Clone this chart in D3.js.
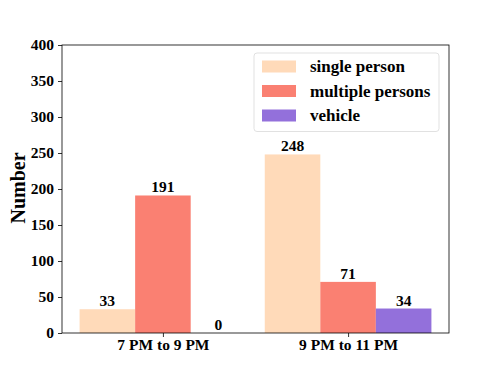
<!DOCTYPE html>
<html>
<head>
<meta charset="utf-8">
<script src="https://cdn.jsdelivr.net/npm/d3@7"></script>
<style>
  body { margin: 0; background: #fff; }
  svg { display: block; }
  text { font-family: "Liberation Serif", "Times New Roman", serif; font-weight: bold; fill: #000; }
</style>
</head>
<body>
<div id="chart"></div>
<script>
// data
var categories = ["7 PM to 9 PM", "9 PM to 11 PM"];
var seriesNames = ["single person", "multiple persons", "vehicle"];
var singlePerson = [33, 248];
var multiplePersons = [191, 71];
var vehicle = [0, 34];
var yTicks = [0, 50, 100, 150, 200, 250, 300, 350, 400];

var seriesValues = [singlePerson, multiplePersons, vehicle];
var colors = ["#ffdab9", "#fa8072", "#9370db"];

var width = 498, height = 374;
var plotLeft = 62, plotRight = 449, plotTop = 45, plotBottom = 333;
var barWidth = 0.3;

var svg = d3.select("#chart").append("svg")
  .attr("width", width)
  .attr("height", height);

var xScale = d3.scaleLinear().domain([-0.545, 1.545]).range([plotLeft, plotRight]);
var yScale = d3.scaleLinear().domain([0, 400]).range([plotBottom, plotTop]);

// bars
seriesValues.forEach(function(vals, s) {
  var off = (s - 1) * barWidth;
  svg.append("g").selectAll("rect")
    .data(vals)
    .enter()
    .append("rect")
    .attr("x", function(d, i) { return xScale(i + off - barWidth / 2); })
    .attr("width", xScale(barWidth) - xScale(0))
    .attr("y", function(d) { return yScale(d); })
    .attr("height", function(d) { return yScale(0) - yScale(d); })
    .attr("fill", colors[s]);

  svg.append("g").selectAll("text")
    .data(vals)
    .enter()
    .append("text")
    .attr("x", function(d, i) { return xScale(i + off); })
    .attr("y", function(d) { return yScale(d) - 3; })
    .attr("text-anchor", "middle")
    .style("font-size", "15.5px")
    .text(function(d) { return d; });
});

// axes
var yAxis = d3.axisLeft(yScale).tickValues(yTicks).tickSize(4).tickPadding(4);
var gy = svg.append("g").attr("transform", "translate(" + plotLeft + ",0)").call(yAxis);
gy.select(".domain").remove();
gy.selectAll("text").style("font-size", "15.5px");
gy.selectAll("line").attr("stroke", "#000").attr("stroke-width", 0.8);

var xAxis = d3.axisBottom(xScale).tickValues([0, 1]).tickFormat(function(d) { return categories[d]; }).tickSize(4).tickPadding(2);
var gx = svg.append("g").attr("transform", "translate(0," + plotBottom + ")").call(xAxis);
gx.select(".domain").remove();
gx.selectAll("text").style("font-size", "15.5px");
gx.selectAll("line").attr("stroke", "#000").attr("stroke-width", 0.8);

// frame
svg.append("rect")
  .attr("x", plotLeft).attr("y", plotTop)
  .attr("width", plotRight - plotLeft).attr("height", plotBottom - plotTop)
  .attr("fill", "none").attr("stroke", "#000").attr("stroke-width", 0.8);

// y label
svg.append("text")
  .attr("transform", "translate(25,188) rotate(-90)")
  .attr("text-anchor", "middle")
  .style("font-size", "20px")
  .text("Number");

// legend
var legend = svg.append("g");
legend.append("rect")
  .attr("x", 254).attr("y", 53)
  .attr("width", 185).attr("height", 78.5)
  .attr("rx", 3)
  .attr("fill", "#fff").attr("fill-opacity", 0.8)
  .attr("stroke", "#d9d9d9").attr("stroke-width", 0.8);

var rows = legend.selectAll("g.item")
  .data(seriesNames)
  .enter()
  .append("g")
  .attr("class", "item")
  .attr("transform", function(d, i) { return "translate(0," + (66.5 + i * 24.5) + ")"; });

rows.append("rect")
  .attr("x", 262).attr("y", -6)
  .attr("width", 34).attr("height", 12)
  .attr("fill", function(d, i) { return colors[i]; });

rows.append("text")
  .attr("x", 310).attr("y", 5.5)
  .style("font-size", "17px")
  .text(function(d) { return d; });
</script>
</body>
</html>
